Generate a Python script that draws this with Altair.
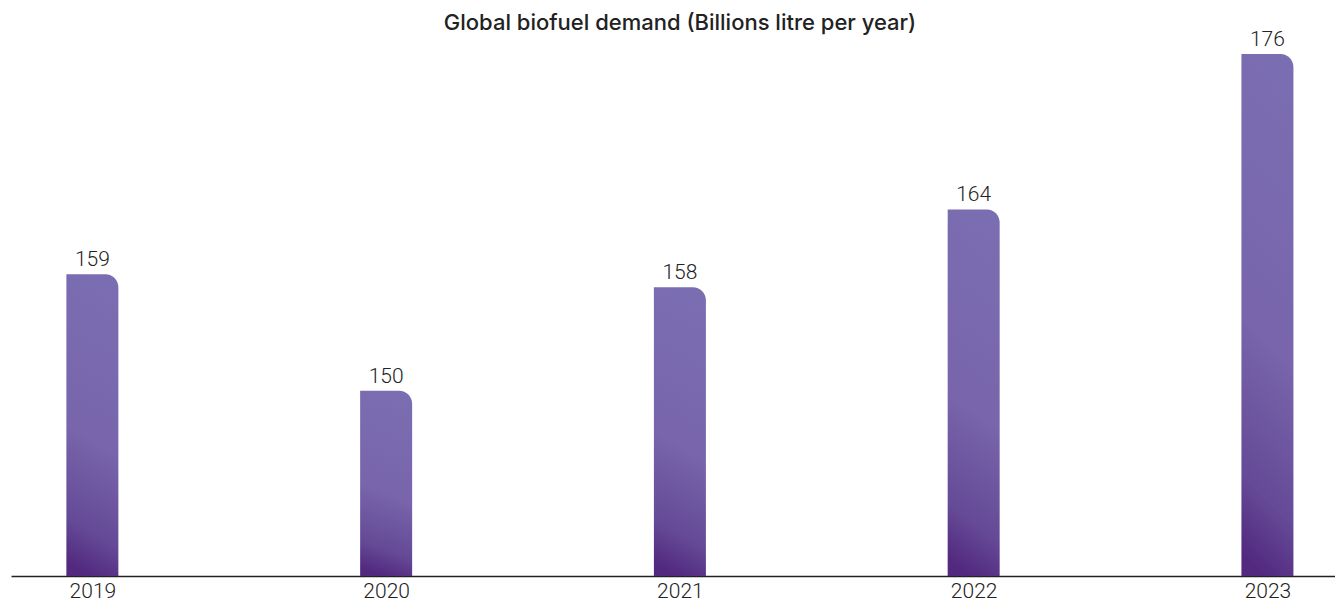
import altair as alt
import pandas as pd

years = [2019, 2020, 2021, 2022, 2023]
demand = [159, 150, 158, 164, 176]
title_text = "Global biofuel demand (Billions litre per year)"

df = pd.DataFrame({"year": years, "demand": demand})

y_min = 135.7
grad = alt.Gradient(
    gradient="linear",
    stops=[
        alt.GradientStop(color="#7b6db1", offset=0),
        alt.GradientStop(color="#7865ab", offset=0.55),
        alt.GradientStop(color="#654a97", offset=0.85),
        alt.GradientStop(color="#52297f", offset=1),
    ],
    x1=0.55, y1=0, x2=0.45, y2=1,
)

x = alt.X(
    "year:Q",
    scale=alt.Scale(domain=[2018.74, 2023.213], nice=False, zero=False),
    axis=alt.Axis(
        values=years, format="d", title=None, grid=False, ticks=False, tickSize=0,
        domainColor="#222222", domainWidth=1.5,
        labelFont="Roboto", labelFontWeight=300, labelFontSize=21, labelColor="#222222",
        labelBaseline="alphabetic", labelPadding=21, labelFlush=False,
    ),
)
y = alt.Y("demand:Q", scale=alt.Scale(domain=[y_min, 176], zero=False, nice=False), axis=None)

base = alt.Chart(df)
bars = base.mark_bar(size=52, color=grad, cornerRadiusTopRight=13).encode(
    x=x, y=y, y2=alt.datum(y_min)
)
labels = base.mark_text(
    baseline="alphabetic", dy=-8, font="Roboto", fontWeight=300, fontSize=21, color="#222222"
).encode(x=x, y=y, text="demand:Q")

chart = (
    alt.layer(bars, labels)
    .properties(
        width=1324,
        height=522,
        padding={"left": 3, "top": 46, "right": 0, "bottom": 27},
        autosize=alt.AutoSizeParams(type="none"),
        title=alt.TitleParams(
            title_text, font="Inter", fontWeight=500, fontSize=22, color="#222222",
            anchor="middle", offset=0, dy=6, dx=7,
        ),
    )
    .configure_view(stroke=None)
)

chart.save("out.html", embed_options={"renderer": "svg", "actions": False})
